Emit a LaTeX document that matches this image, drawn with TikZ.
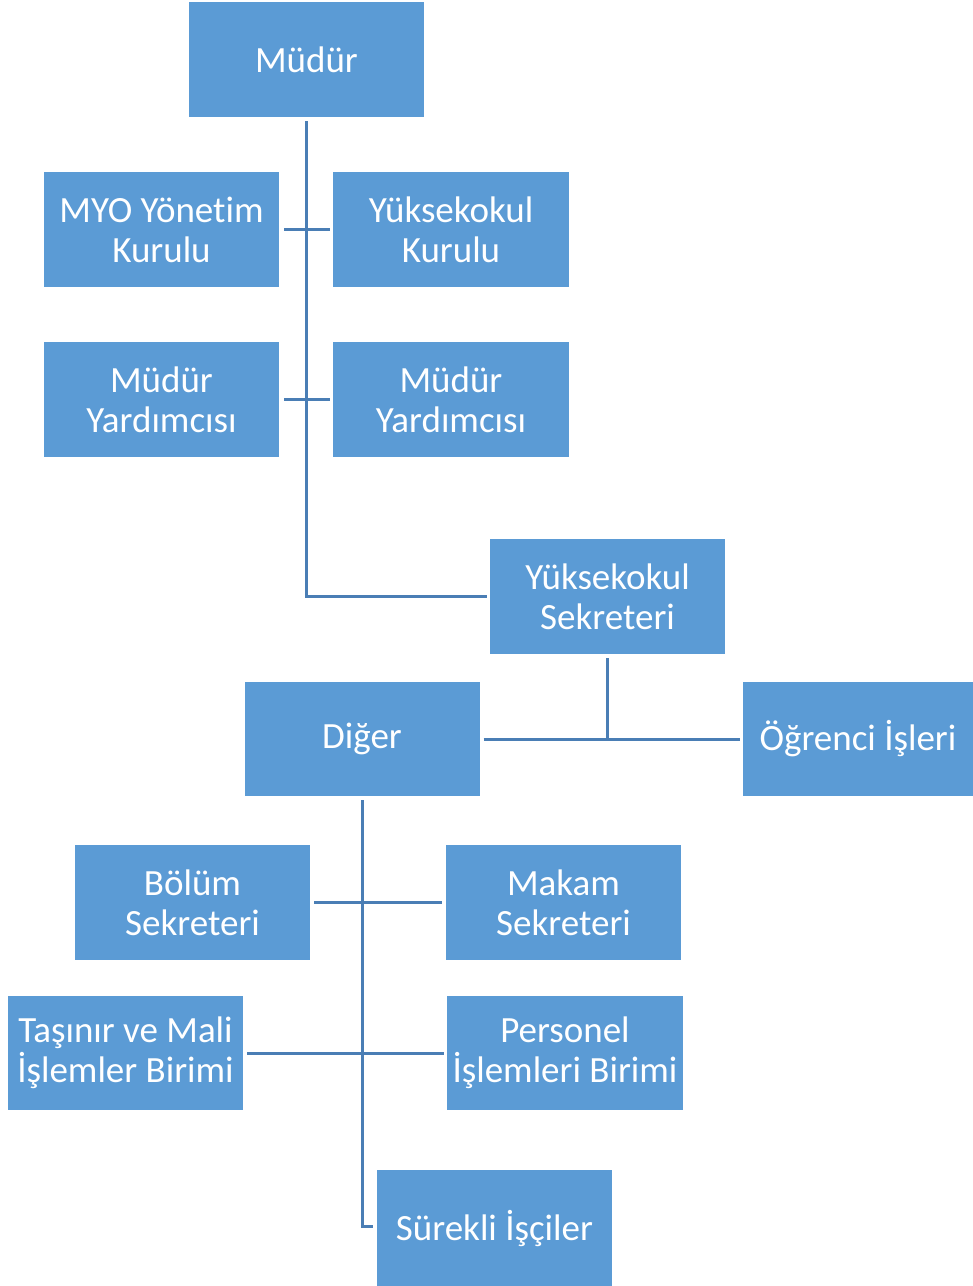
\documentclass[tikz,border=0pt]{standalone}
\usepackage{fontspec}
\setmainfont{Carlito}[Ligatures={NoCommon}]
\definecolor{boxblue}{HTML}{5B9BD5}
\definecolor{linkblue}{HTML}{4A7EB5}
\begin{document}
\begin{tikzpicture}[x=1pt,y=-1pt,
  box/.style={fill=boxblue,draw=none,text=white,align=center,inner sep=0pt,
    minimum width=235pt,minimum height=115pt,font=\fontsize{37}{40}\selectfont},
  conn/.style={draw=linkblue,line width=3pt}]
\useasboundingbox (0,0) rectangle (973,1286);
\node[box] (mudur) at (306.5,59.5) {Müdür};
\node[box] (myo) at (161.5,229.5) {MYO Yönetim\\Kurulu};
\node[box,minimum width=236pt] (ykurul) at (451,229.5) {Yüksekokul\\Kurulu};
\node[box] (my1) at (161.5,399.5) {Müdür\\Yardımcısı};
\node[box,minimum width=236pt] (my2) at (451,399.5) {Müdür\\Yardımcısı};
\node[box] (ysek) at (607.5,596.5) {Yüksekokul\\Sekreteri};
\node[box,minimum height=114pt] (diger) at (362,739) {Diğer};
\node[box,minimum width=230pt,minimum height=114pt] (ogr) at (858,739) {Öğrenci İşleri};
\node[box] (bolum) at (192.5,902.5) {Bölüm\\Sekreteri};
\node[box] (makam) at (563.5,902.5) {Makam\\Sekreteri};
\node[box,minimum height=114pt] (tasinir) at (125.5,1053) {Taşınır ve Mali\\İşlemler Birimi};
\node[box,minimum width=236pt,minimum height=114pt] (personel) at (565,1053) {Personel\\İşlemleri Birimi};
\node[box,minimum height=116pt] (surekli) at (494.5,1228) {Sürekli İşçiler};
% connectors
\draw[conn] ([yshift=-4pt]mudur.south) |- ([xshift=-3pt]ysek.west);
\draw[conn] ([xshift=5pt]myo.east) -- ([xshift=-3pt]ykurul.west);
\draw[conn] ([xshift=5pt]my1.east) -- ([xshift=-3pt]my2.west);
\draw[conn] ([yshift=-4pt]ysek.south) -- (ysek.south |- diger.east);
\draw[conn] ([xshift=4pt]diger.east) -- ([xshift=-3pt]ogr.west);
\draw[conn] ([yshift=-4pt]diger.south) |- ([xshift=-4pt,yshift=2pt]surekli.west);
\draw[conn] ([xshift=4pt]bolum.east) -- ([xshift=-4pt]makam.west);
\draw[conn] ([xshift=4pt]tasinir.east) -- ([xshift=-3pt]personel.west);
\end{tikzpicture}
\end{document}
